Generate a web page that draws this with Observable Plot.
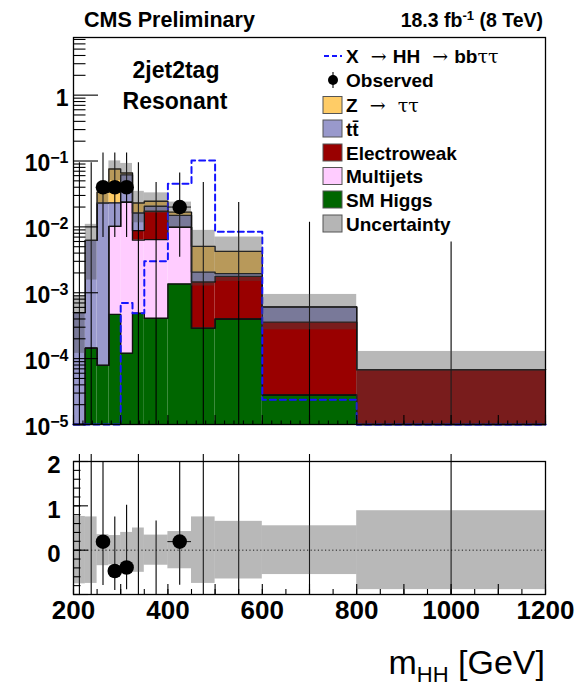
<!DOCTYPE html>
<html>
<head>
<meta charset="utf-8">
<script src="https://cdn.jsdelivr.net/npm/d3@7"></script>
<script src="https://cdn.jsdelivr.net/npm/@observablehq/plot@0.6"></script>
<style>
  body { margin: 0; background: #fff; }
  #chart { position: relative; width: 579px; height: 686px; font-family: "Liberation Sans", Arial, Helvetica, sans-serif; }
  #chart svg { position: absolute; left: 0; overflow: visible; }
</style>
</head>
<body>
<div id="chart"></div>
<script>
// m_HH bin edges (GeV)
const edges = [200, 225, 250, 275, 300, 325, 350, 400, 450, 500, 600, 800, 1200];

// Background predictions, events / GeV, per bin
const smHiggs     = [0, 1.44e-4, 7.9e-5, 4.7e-4, 1.21e-4, 4.9e-4, 4.1e-4, 1.36e-3, 2.9e-4, 4.0e-4, 2.8e-5, 0];
const multijets   = [0, 0, 0, 9.7e-3, 2.35e-2, 5.8e-3, 6.0e-3, 8.5e-3, 0, 0, 0, 0];
const electroweak = [0, 0, 0, 0, 0, 2.5e-3, 1.09e-2, 0, 1.17e-3, 1.37e-3, 3.3e-4, 6.8e-5];
const ttbar       = [5.0e-4, 6.1e-3, 2.3e-2, 1.3e-2, 3.8e-2, 7.5e-3, 3.3e-3, 5.1e-3, 6.0e-4, 1.8e-4, 2.5e-4, 0];
const ztautau     = [0, 0, 1.05e-2, 5.23e-2, 4.0e-3, 6.8e-3, 3.9e-3, 1.8e-3, 3.0e-3, 2.3e-3, 0, 0];

// Relative uncertainty on the total background, per bin
const bkgRelUnc = [0.76, 0.75, 0.35, 0.33, 0.40, 0.50, 0.34, 0.42, 0.75, 0.65, 0.55, 0.89];

// Resonant X -> HH -> bbtautau signal, events / GeV
const signal = [0, 0, 0, 0, 7.0e-4, 4.9e-4, 3.0e-3, 4.5e-2, 1.016e-1, 8.4e-3, 2.37e-5, 0];

// Observed data, events / GeV, with Poisson interval
const observed = [0, 0, 0.04, 0.04, 0.04, 0, 0, 0.02, 0, 0, 0, 0];
const obsLow   = [0, 0, 0.0069, 0.0069, 0.0069, 0, 0, 0.00346, 0, 0, 0, 0];
const obsHigh  = [0.0736, 0.0736, 0.132, 0.132, 0.132, 0.0736, 0.0368, 0.066, 0.0368, 0.0184, 0.0092, 0.0046];

// Axis labels
const xTickLabels = ["200", "400", "600", "800", "1000", "1200"];
const yTickLabels = ["10^-5", "10^-4", "10^-3", "10^-2", "10^-1", "1"];
const ratioTickLabels = ["0", "1", "2"];

const colors = {
  higgs: "#006600", multijet: "#ffccff", ew: "#990000", tt: "#9999cc", ztt: "#ffcc66",
  unc: "#494949", signal: "#1414ff"
};
const FONT = '"Liberation Sans", Arial, Helvetica, sans-serif';
const YMIN = 1e-5, YMAX = 7.5;
const W = 579, ML = 73, MR = 34;
const frameW = W - ML - MR;

const nb = edges.length - 1;
const bins = d3.range(nb).map(i => ({
  i, x1: edges[i], x2: edges[i + 1], xc: (edges[i] + edges[i + 1]) / 2
}));

// Stack, bottom to top
const components = [
  {key: "higgs", values: smHiggs},
  {key: "multijet", values: multijets},
  {key: "ew", values: electroweak},
  {key: "tt", values: ttbar},
  {key: "ztt", values: ztautau}
];
const cum = new Array(nb).fill(0);
const stackRects = [];
const stackTops = [];
for (const c of components) {
  bins.forEach(b => {
    const lo = cum[b.i], hi = lo + c.values[b.i];
    if (c.values[b.i] > 0 && hi > YMIN) {
      stackRects.push({x1: b.x1, x2: b.x2, y1: Math.max(lo, YMIN), y2: hi, fill: colors[c.key]});
    }
    cum[b.i] = hi;
  });
  bins.forEach(b => stackTops.push({key: c.key, x: b.x1, y: Math.max(cum[b.i], YMIN)}));
  stackTops.push({key: c.key, x: edges[nb], y: Math.max(cum[nb - 1], YMIN)});
}
const total = cum.slice();

const bandRows = bins.map(b => ({
  x1: b.x1, x2: b.x2,
  y1: Math.max(total[b.i] * (1 - bkgRelUnc[b.i]), YMIN),
  y2: total[b.i] * (1 + bkgRelUnc[b.i]),
  r1: -bkgRelUnc[b.i], r2: bkgRelUnc[b.i]
}));

const signalLine = bins.map(b => ({x: b.x1, y: Math.max(signal[b.i], YMIN)}))
  .concat([{x: edges[nb], y: Math.max(signal[nb - 1], YMIN)}]);

const obsRows = bins.map(b => ({
  ...b, y: observed[b.i], lo: obsLow[b.i], hi: obsHigh[b.i],
  ratio: observed[b.i] / total[b.i] - 1,
  rlo: obsLow[b.i] / total[b.i] - 1,
  rhi: obsHigh[b.i] / total[b.i] - 1
}));
const withData = obsRows.filter(d => d.y > 0);
const noData = obsRows.filter(d => d.y === 0);

// Tick positions
const yMajor = d3.range(-5, 1).map(k => Math.pow(10, k));
const yMinor = [];
for (let k = -5; k <= 0; k++) for (let m = 2; m <= 9; m++) if (m * Math.pow(10, k) < YMAX) yMinor.push(m * Math.pow(10, k));
const xMajorVals = d3.range(200, 1201, 100);
const xFineVals = d3.range(200, 1201, 20);
const xRatioMinor = d3.range(200, 1201, 50);
const xLabelVals = xTickLabels.map(Number);

const topH = 440, topMT = 37, topMB = 16;
const topFrameH = topH - topMT - topMB;

const topPlot = Plot.plot({
  width: W, height: topH, marginLeft: ML, marginRight: MR, marginTop: topMT, marginBottom: topMB,
  style: {fontFamily: FONT, overflow: "visible"},
  x: {domain: [200, 1200], axis: null},
  y: {type: "log", domain: [YMIN, YMAX], axis: null},
  color: {type: "identity"},
  marks: [
    Plot.rect(stackRects, {x1: "x1", x2: "x2", y1: "y1", y2: "y2", fill: "fill"}),
    Plot.line(stackTops, {x: "x", y: "y", z: "key", curve: "step-after", stroke: "#111", strokeWidth: 1.4}),
    Plot.line(signalLine, {x: "x", y: "y", curve: "step-after", stroke: colors.signal, strokeWidth: 2, strokeDasharray: "6,4"}),
    Plot.ruleX(noData, {x: "xc", y1: YMIN, y2: "hi", stroke: "#000", strokeWidth: 1.1, insetBottom: 7}),
    Plot.ruleX(withData, {x: "xc", y1: "lo", y2: "hi", stroke: "#000", strokeWidth: 1.1}),
    Plot.ruleY(withData, {y: "y", x1: "x1", x2: "x2", stroke: "#000", strokeWidth: 1.1}),
    Plot.rect(bandRows, {x1: "x1", x2: "x2", y1: "y1", y2: "y2", fill: colors.unc, fillOpacity: 0.39}),
    Plot.dot(withData, {x: "xc", y: "y", r: 7.3, fill: "#000", stroke: null}),
    Plot.tickY(yMajor, {y: d => d, insetRight: frameW - 25, stroke: "#000", strokeWidth: 1.1}),
    Plot.tickY(yMinor, {y: d => d, insetRight: frameW - 12.5, stroke: "#000", strokeWidth: 1.1}),
    Plot.tickX(xMajorVals, {x: d => d, insetTop: topFrameH - 9, stroke: "#000", strokeWidth: 1.1}),
    Plot.tickX(xFineVals, {x: d => d, insetTop: topFrameH - 3.5, stroke: "#000", strokeWidth: 1.1}),
    Plot.frame({stroke: "#000", strokeWidth: 1.3}),
    Plot.text(yMajor, {y: d => d, text: (d, i) => yTickLabels[i], frameAnchor: "left", textAnchor: "end",
      dx: -5, dy: 3, fontSize: 23, fontWeight: "bold", fill: "#000"})
  ]
});

const rH = 246, rMT = 21, rMB = 92;
const rFrameH = rH - rMT - rMB;
const ratioMajor = [-1, 0, 1, 2];
const ratioMinor = d3.range(-1, 2.0001, 0.2);

const ratioPlot = Plot.plot({
  width: W, height: rH, marginLeft: ML, marginRight: MR, marginTop: rMT, marginBottom: rMB,
  style: {fontFamily: FONT, overflow: "visible"},
  x: {domain: [200, 1200], axis: null},
  y: {domain: [-1, 2], axis: null},
  marks: [
    Plot.ruleY([0], {stroke: "#000", strokeWidth: 1, strokeDasharray: "1.2,2.4"}),
    Plot.ruleX(noData, {x: "xc", y1: -1, y2: d => Math.min(d.rhi, 2), stroke: "#000", strokeWidth: 1.1, insetBottom: 7}),
    Plot.ruleX(withData, {x: "xc", y1: "rlo", y2: d => Math.min(d.rhi, 2), stroke: "#000", strokeWidth: 1.1}),
    Plot.ruleY(withData, {y: "ratio", x1: "x1", x2: "x2", stroke: "#000", strokeWidth: 1.1}),
    Plot.rect(bandRows, {x1: "x1", x2: "x2", y1: "r1", y2: "r2", fill: colors.unc, fillOpacity: 0.39}),
    Plot.dot(withData, {x: "xc", y: "ratio", r: 7.3, fill: "#000", stroke: null}),
    Plot.tickY(ratioMajor, {y: d => d, insetRight: frameW - 15, stroke: "#000", strokeWidth: 1.1}),
    Plot.tickY(ratioMinor, {y: d => d, insetRight: frameW - 7.5, stroke: "#000", strokeWidth: 1.1}),
    Plot.tickX(xMajorVals, {x: d => d, insetTop: rFrameH - 10, stroke: "#000", strokeWidth: 1.1}),
    Plot.tickX(xRatioMinor, {x: d => d, insetTop: rFrameH - 5, stroke: "#000", strokeWidth: 1.1}),
    Plot.frame({stroke: "#000", strokeWidth: 1.3}),
    Plot.text(ratioTickLabels.map(Number), {y: d => d, text: (d, i) => ratioTickLabels[i], frameAnchor: "left",
      textAnchor: "end", dx: -13, dy: 4, fontSize: 24, fontWeight: "bold", fill: "#000"}),
    Plot.text(xLabelVals, {x: d => d, text: (d, i) => xTickLabels[i], frameAnchor: "bottom", lineAnchor: "top",
      dy: 6, fontSize: 26, fontWeight: "bold", fill: "#000"})
  ]
});

const chart = document.getElementById("chart");
topPlot.style.top = "0px";
ratioPlot.style.top = topH + "px";
chart.appendChild(topPlot);
chart.appendChild(ratioPlot);

// Exponents written as base^exp become superscripts
d3.select(topPlot).selectAll("text").each(function () {
  const t = d3.select(this);
  const s = t.text();
  if (!s.includes("^")) return;
  const [base, exp] = s.split("^");
  t.text(base).attr("font-size", 23);
  t.append("tspan").attr("dy", "-0.5em").attr("font-size", 16).text(exp.replace("-", "\u2212"));
});

// Titles, labels and legend
const svg = d3.select(chart).append("svg")
  .attr("width", W).attr("height", 686).style("top", "0px").style("pointer-events", "none")
  .attr("font-family", FONT);

svg.append("text").attr("x", 84).attr("y", 27).attr("font-size", 21.5).attr("font-weight", "bold").text("CMS Preliminary");
const lumi = svg.append("text").attr("x", 543).attr("y", 27).attr("text-anchor", "end").attr("font-size", 19.5).attr("font-weight", "bold");
lumi.append("tspan").text("18.3 fb");
lumi.append("tspan").attr("dy", -7).attr("font-size", 13).text("-1");
lumi.append("tspan").attr("dy", 7).text(" (8 TeV)");

svg.append("text").attr("x", 176).attr("y", 78).attr("text-anchor", "middle").attr("font-size", 23).attr("font-weight", "bold").text("2jet2tag");
svg.append("text").attr("x", 175).attr("y", 109).attr("text-anchor", "middle").attr("font-size", 23).attr("font-weight", "bold").text("Resonant");

// Legend
const SERIF = '"DejaVu Serif", "Liberation Serif", serif';
const legendX = 323, textX = 346, legendFs = 19;
const rowsY = [56, 80, 105, 128.5, 152.5, 176, 199.5, 223.5];

svg.append("line").attr("x1", legendX + 1).attr("x2", legendX + 19).attr("y1", rowsY[0]).attr("y2", rowsY[0])
  .attr("stroke", colors.signal).attr("stroke-width", 2).attr("stroke-dasharray", "5,3");
const sigText = svg.append("text").attr("x", textX).attr("y", rowsY[0] + 7).attr("font-size", legendFs).attr("font-weight", "bold");
sigText.append("tspan").text("X");
sigText.append("tspan").attr("font-family", SERIF).attr("font-weight", "normal").text("\u00a0\u00a0\u2192\u00a0");
sigText.append("tspan").text("HH");
sigText.append("tspan").attr("font-family", SERIF).attr("font-weight", "normal").text("\u00a0\u00a0\u2192\u00a0");
sigText.append("tspan").text("bb");
sigText.append("tspan").attr("font-family", SERIF).attr("font-weight", "normal").text("\u03c4\u03c4");

svg.append("line").attr("x1", 333).attr("x2", 333).attr("y1", rowsY[1] - 8).attr("y2", rowsY[1] + 8).attr("stroke", "#000").attr("stroke-width", 1.1);
svg.append("circle").attr("cx", 333).attr("cy", rowsY[1]).attr("r", 5).attr("fill", "#000");
svg.append("text").attr("x", textX).attr("y", rowsY[1] + 7).attr("font-size", legendFs).attr("font-weight", "bold").text("Observed");

const boxes = [
  {fill: colors.ztt, label: "ztt"},
  {fill: colors.tt, label: "tt"},
  {fill: colors.ew, label: "Electroweak"},
  {fill: colors.multijet, label: "Multijets"},
  {fill: colors.higgs, label: "SM Higgs"},
  {fill: "#b5b5b5", label: "Uncertainty"}
];
boxes.forEach((b, k) => {
  const y = rowsY[k + 2];
  svg.append("rect").attr("x", legendX).attr("y", y - 8.5).attr("width", 19).attr("height", 17)
    .attr("fill", b.fill).attr("stroke", "#555").attr("stroke-width", 1);
  const t = svg.append("text").attr("x", textX).attr("y", y + 7).attr("font-size", legendFs).attr("font-weight", "bold");
  if (b.label === "ztt") {
    t.append("tspan").text("Z");
    t.append("tspan").attr("font-family", SERIF).attr("font-weight", "normal").text("\u00a0\u00a0\u2192\u00a0\u00a0\u03c4\u03c4");
  } else if (b.label === "tt") {
    t.append("tspan").text("t");
    t.append("tspan").text("t\u0304");
  } else {
    t.text(b.label);
  }
});

// x-axis title
const xt = svg.append("text").attr("x", 545).attr("y", 674).attr("text-anchor", "end").attr("font-size", 34);
xt.append("tspan").text("m");
xt.append("tspan").attr("dy", 8).attr("font-size", 22).text("HH");
xt.append("tspan").attr("dy", -8).text(" [GeV]");
</script>
</body>
</html>
